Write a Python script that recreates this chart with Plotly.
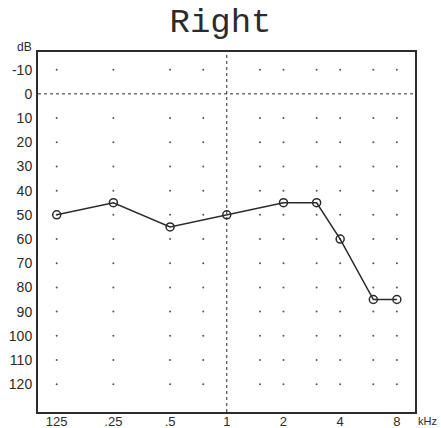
import numpy as np
import plotly.graph_objects as go

# Data
freqs_hz = [125, 250, 500, 1000, 2000, 3000, 4000, 6000, 8000]
thresholds_db = [50, 45, 55, 50, 45, 45, 60, 85, 85]

tick_freqs_hz = [125, 250, 500, 1000, 2000, 4000, 8000]
tick_text = ["125", ".25", ".5", "1", "2", "4", "8"]

db_ticks = [-10, 0, 10, 20, 30, 40, 50, 60, 70, 80, 90, 100, 110, 120]

dot_freqs_hz = [125, 250, 500, 750, 1500, 2000, 3000, 4000, 6000, 8000]
dot_db = [-10, 10, 20, 30, 40, 50, 60, 70, 80, 90, 100, 110, 120]

ref_freq_hz = 1000
ref_db = 0


def octave(f):
    return np.log2(np.asarray(f, dtype=float) / 125.0)


ink = "#2b2b2b"
fig = go.Figure()

# grid dots
gx, gy = np.meshgrid(octave(dot_freqs_hz), dot_db)
fig.add_trace(go.Scatter(
    x=gx.ravel(), y=gy.ravel(), mode="markers",
    marker=dict(size=2, color="#555555"), hoverinfo="skip", showlegend=False))

# reference lines
fig.add_vline(x=float(octave(ref_freq_hz)), line=dict(color=ink, width=1, dash="dot"))
fig.add_hline(y=ref_db, line=dict(color=ink, width=1, dash="dot"))

# thresholds
fig.add_trace(go.Scatter(
    x=octave(freqs_hz), y=thresholds_db, mode="lines+markers",
    line=dict(color=ink, width=1.5),
    marker=dict(symbol="circle-open", size=8, color=ink, line=dict(width=1.5)),
    showlegend=False))

fig.update_layout(
    width=441, height=428,
    margin=dict(l=38, r=26, t=52, b=16, autoexpand=False),
    paper_bgcolor="white", plot_bgcolor="white",
    title=dict(text="Right", x=0.5, xanchor="center", y=0.982, yanchor="top",
               font=dict(family="Liberation Mono", size=34, color=ink)),
    font=dict(family="Liberation Sans", size=14, color=ink),
    xaxis=dict(range=[-0.33, 6.32], tickvals=list(octave(tick_freqs_hz)), ticktext=tick_text,
               showgrid=False, zeroline=False, showline=True, linecolor=ink, linewidth=2,
               mirror=True, ticks="", automargin=False, ticklabelstandoff=-4,
               tickfont=dict(size=13)),
    yaxis=dict(range=[131.5, -17.3], tickvals=db_ticks, ticktext=[str(v) for v in db_ticks],
               showgrid=False, zeroline=False,
               showline=True, linecolor=ink, linewidth=2, mirror=True, ticks="",
               ticklabelstandoff=1, automargin=False),
    annotations=[
        dict(text="dB", xref="paper", yref="paper", x=0, y=1, xanchor="right", yanchor="bottom",
             xshift=-4, yshift=-4, showarrow=False, font=dict(size=12, color=ink)),
        dict(text="kHz", xref="paper", yref="paper", x=1, y=0, xanchor="right", yanchor="middle",
             xshift=24, yshift=-9, showarrow=False, font=dict(size=11, color=ink)),
    ],
)

fig.write_html("out.html", post_script="document.body.style.margin='0';",
               config={"displayModeBar": False})
